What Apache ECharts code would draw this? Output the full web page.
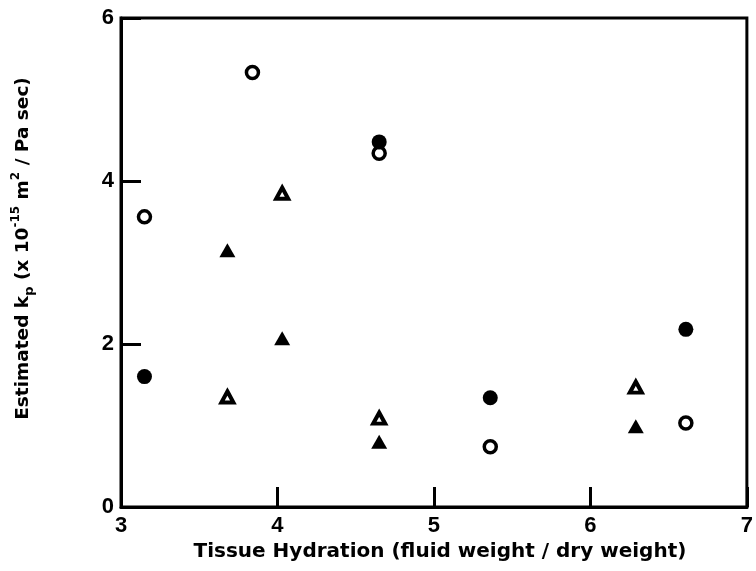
<!DOCTYPE html>
<html>
<head>
<meta charset="utf-8">
<script src="https://cdn.jsdelivr.net/npm/echarts@6/dist/echarts.min.js"></script>
<style>html,body{margin:0;padding:0;background:#fff;}#c{width:756px;height:571px;}</style>
</head>
<body>
<div id="c"></div>
<script>
// Data
var xTicks = [3, 4, 5, 6, 7];
var yTicks = [0, 2, 4, 6];
var openCircles = [[3.15, 3.56], [3.84, 5.33], [4.65, 4.34], [5.36, 0.74], [6.61, 1.03]];
var filledCircles = [[3.15, 1.60], [4.65, 4.48], [5.36, 1.34], [6.61, 2.18]];
var openTriangles = [[3.68, 1.35], [4.03, 3.85], [4.65, 1.09], [6.29, 1.47]];
var filledTriangles = [[3.68, 3.15], [4.03, 2.07], [4.65, 0.80], [6.29, 0.99]];

var FONT = '"Liberation Sans", Arial, sans-serif';
var TFONT = '"DejaVu Sans", sans-serif';
var chart = echarts.init(document.getElementById('c'), null, {renderer: 'canvas'});
var axisCommon = {
  axisLine: {show: true, onZero: false, lineStyle: {color: '#000', width: 3}},
  axisTick: {show: true, inside: true, length: 20, lineStyle: {color: '#000', width: 3}},
  splitLine: {show: false},
  axisLabel: {color: '#000', fontFamily: FONT, fontWeight: 'bold', fontSize: 22}
};
chart.setOption({
  animation: false,
  backgroundColor: '#fff',
  grid: {left: 121, right: 3, top: 18, bottom: 64, show: true, borderColor: '#000', borderWidth: 3, backgroundColor: 'transparent'},
  xAxis: Object.assign({}, axisCommon, {
    type: 'value', min: xTicks[0], max: xTicks[xTicks.length - 1], interval: 1,
    axisLabel: Object.assign({}, axisCommon.axisLabel, {margin: 8}),
    name: 'Tissue Hydration (fluid weight / dry weight)',
    nameLocation: 'middle', nameGap: 35,
    nameTextStyle: {color: '#000', fontFamily: TFONT, fontWeight: 'bold', fontSize: 20, padding: [0, 0, 0, 12]}
  }),
  yAxis: Object.assign({}, axisCommon, {
    type: 'value', min: yTicks[0], max: yTicks[yTicks.length - 1], interval: 2,
    axisLabel: Object.assign({}, axisCommon.axisLabel, {margin: 7}),
    name: '{a|Estimated k}{sub|p}{a| (x 10}{sup|-15}{a| m}{sup|2}{a| / Pa sec)}',
    nameLocation: 'middle', nameGap: 85,
    nameTextStyle: {
      color: '#000', fontFamily: TFONT, fontWeight: 'bold', fontSize: 18.5,
      padding: [0, 0, 0, 28],
      rich: {
        a: {fontFamily: TFONT, fontWeight: 'bold', fontSize: 18.5, color: '#000', lineHeight: 26, verticalAlign: 'middle'},
        sub: {fontFamily: TFONT, fontWeight: 'bold', fontSize: 13, color: '#000', lineHeight: 22, verticalAlign: 'bottom'},
        sup: {fontFamily: TFONT, fontWeight: 'bold', fontSize: 12, color: '#000', lineHeight: 22, verticalAlign: 'top'}
      }
    }
  }),
  series: [
    {type: 'scatter', name: 'open circles', data: openCircles, symbol: 'circle', symbolSize: 12,
     itemStyle: {color: '#fff', borderColor: '#000', borderWidth: 3.5, opacity: 1}},
    {type: 'scatter', name: 'filled circles', data: filledCircles, symbol: 'circle', symbolSize: 15,
     itemStyle: {color: '#000', opacity: 1}, z: 3},
    {type: 'scatter', name: 'open triangles', data: openTriangles, symbol: 'triangle', symbolSize: [12, 11],
     itemStyle: {color: '#fff', borderColor: '#000', borderWidth: 4, opacity: 1}},
    {type: 'scatter', name: 'filled triangles', data: filledTriangles, symbol: 'triangle', symbolSize: [16, 14],
     itemStyle: {color: '#000', opacity: 1}}
  ]
});
</script>
</body>
</html>
